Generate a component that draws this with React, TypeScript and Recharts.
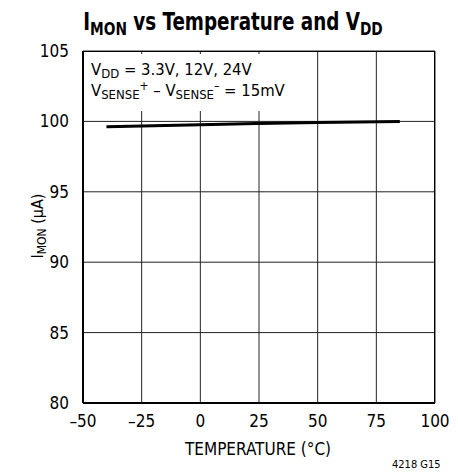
import React from "react";
import { LineChart, Line, XAxis, YAxis, CartesianGrid } from "recharts";

const temps = [-40, -25, 0, 25, 50, 85];
const imon = [99.62, 99.68, 99.77, 99.85, 99.92, 100.0];
const xTicks = [-50, -25, 0, 25, 50, 75, 100];
const yTicks = [80, 85, 90, 95, 100, 105];

const data = temps.map((t, i) => ({ t, v: imon[i] }));

const FONT = '"Liberation Sans Narrow", "DejaVu Sans Condensed", "Roboto Condensed", Arial, sans-serif';

const fmtTick = (v: number) => (v < 0 ? `\u2013${Math.abs(v)}` : `${v}`);

const sub = { fontSize: 13, verticalAlign: -3, lineHeight: 0 };
const sup = { fontSize: 12, verticalAlign: 6, lineHeight: 0 };

export default function App() {
  return (
    <div style={{ position: "absolute", left: 0, top: 0, width: 458, height: 475, background: "#fff", fontFamily: FONT, color: "#000" }}>
      <LineChart width={458} height={475} data={data} margin={{ top: 51, right: 23, left: 23, bottom: 42 }}>
        <CartesianGrid stroke="#222" strokeWidth={1} horizontalValues={yTicks} verticalValues={xTicks} />
        <XAxis
          dataKey="t"
          type="number"
          domain={[-50, 100]}
          ticks={xTicks}
          tickFormatter={fmtTick}
          tickLine={false}
          axisLine={{ stroke: "#000", strokeWidth: 2 }}
          tick={{ fill: "#000", fontSize: 17, fontFamily: FONT }}
          tickMargin={6}
          height={30}
        />
        <YAxis
          type="number"
          domain={[80, 105]}
          ticks={yTicks}
          tickLine={false}
          axisLine={{ stroke: "#000", strokeWidth: 2 }}
          tick={{ fill: "#000", fontSize: 17, fontFamily: FONT }}
          tickMargin={8}
          width={60}
        />
        <Line dataKey="v" stroke="#000" strokeWidth={3} dot={false} isAnimationActive={false} />
      </LineChart>
      {/* border top/right */}
      <div style={{ position: "absolute", left: 83, top: 51, width: 352, height: 352, border: "1px solid #000", borderLeft: "none", borderBottom: "none", boxSizing: "border-box", pointerEvents: "none" }} />
      {/* annotation box */}
      <div style={{ position: "absolute", left: 85, top: 54, width: 228, height: 57, background: "#fff", fontSize: 16.5, lineHeight: "21px", paddingLeft: 6, paddingTop: 5, boxSizing: "border-box" }}>
        <div>V<sub style={sub}>DD</sub> = 3.3V, 12V, 24V</div>
        <div>
          V<sub style={sub}>SENSE</sub><sup style={sup}>+</sup> – V
          <sub style={sub}>SENSE</sub><sup style={sup}>–</sup> = 15mV
        </div>
      </div>
      {/* title */}
      <div style={{ position: "absolute", left: 0, top: 7, width: 466, textAlign: "center", fontWeight: "bold", fontSize: 24, lineHeight: "30px", transform: "scaleX(0.85)" }}>
        I<sub style={{ fontSize: 18, verticalAlign: -5 }}>MON</sub> vs Temperature and V<sub style={{ fontSize: 18, verticalAlign: -5 }}>DD</sub>
      </div>
      {/* y label */}
      <div style={{ position: "absolute", left: 38, top: 226, transform: "translate(-50%, -50%) rotate(-90deg)", whiteSpace: "nowrap", fontSize: 16 }}>
        I<sub style={{ fontSize: 12, verticalAlign: -3 }}>MON</sub> (µA)
      </div>
      {/* x label */}
      <div style={{ position: "absolute", left: 0, top: 439, width: 516, textAlign: "center", fontSize: 17 }}>TEMPERATURE (°C)</div>
      <div style={{ position: "absolute", left: 392, top: 458, fontSize: 11 }}>4218 G15</div>
    </div>
  );
}
